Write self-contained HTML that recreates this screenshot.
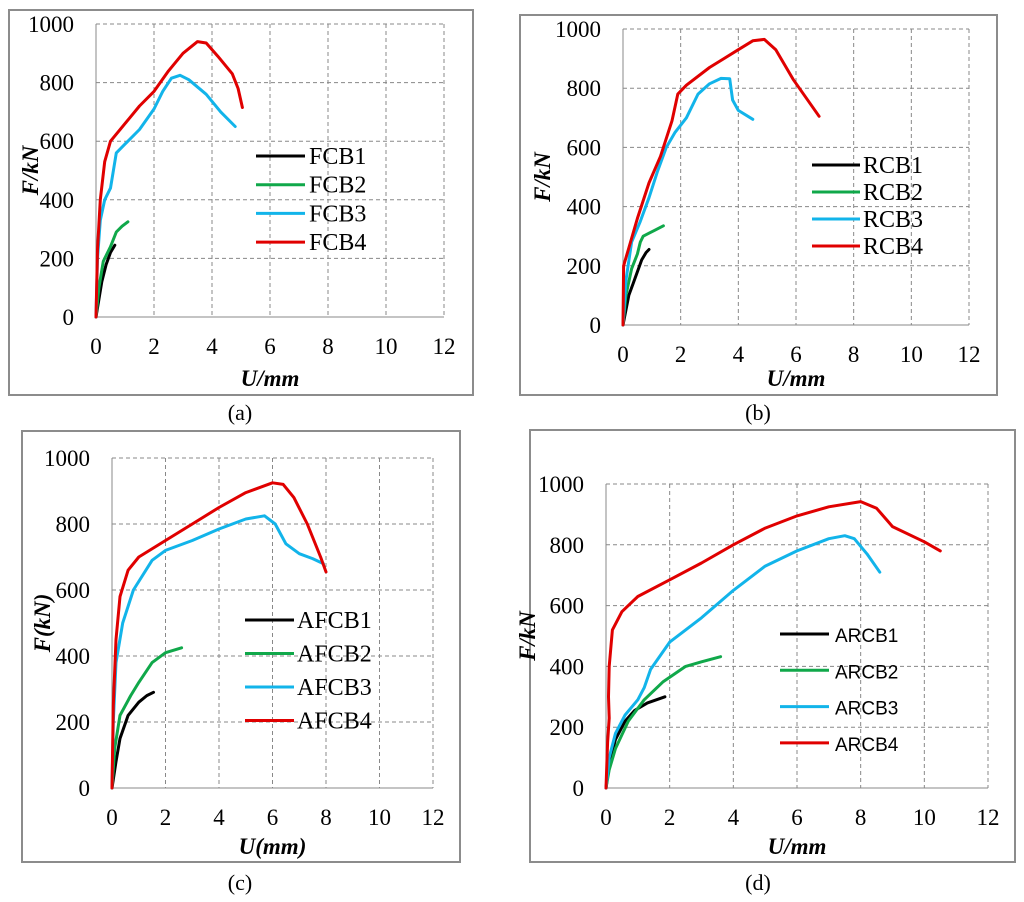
<!DOCTYPE html>
<html><head><meta charset="utf-8"><style>
body{margin:0;background:#fff;width:1024px;height:902px;overflow:hidden}
svg{display:block}
</style></head><body>
<svg id="fig" width="1024" height="902" xmlns="http://www.w3.org/2000/svg"></svg>
<script>
const xTicks=[0,2,4,6,8,10,12];
const yTicks=[0,200,400,600,800,1000];
const colors=["#000000","#10a84a","#12b4ea","#e00000"];
// panel a
const aNames=["FCB1","FCB2","FCB3","FCB4"];
const aS1=[[0,0],[0.1,60],[0.2,120],[0.35,180],[0.5,220],[0.65,245]];
const aS2=[[0,0],[0.1,100],[0.25,190],[0.5,240],[0.7,290],[0.9,310],[1.1,325]];
const aS3=[[0,0],[0.05,200],[0.15,330],[0.3,400],[0.5,440],[0.6,500],[0.7,560],[1,590],[1.5,640],[2,710],[2.3,770],[2.6,815],[2.9,825],[3.2,810],[3.8,760],[4.3,700],[4.8,650]];
const aS4=[[0,0],[0.05,230],[0.15,400],[0.3,530],[0.5,600],[1,660],[1.5,720],[2,770],[2.5,840],[3,900],[3.5,940],[3.8,935],[4.2,890],[4.7,830],[4.9,780],[5.05,715]];
// panel b
const bNames=["RCB1","RCB2","RCB3","RCB4"];
const bS1=[[0,0],[0.1,50],[0.2,100],[0.35,140],[0.5,180],[0.65,220],[0.8,245],[0.9,255]];
const bS2=[[0,0],[0.1,100],[0.3,190],[0.5,240],[0.6,280],[0.7,300],[0.9,310],[1.1,320],[1.4,335]];
const bS3=[[0,0],[0.1,150],[0.3,280],[0.6,350],[0.9,430],[1.2,520],[1.5,600],[1.8,650],[2.2,700],[2.6,780],[3,815],[3.4,833],[3.7,832],[3.8,760],[4,725],[4.5,695]];
const bS4=[[0,0],[0.02,200],[0.2,260],[0.5,360],[0.9,480],[1.3,570],[1.7,690],[1.9,780],[2.2,810],[3,870],[3.5,900],[4,930],[4.5,960],[4.9,965],[5.3,930],[5.9,830],[6.8,705]];
// panel c
const cNames=["AFCB1","AFCB2","AFCB3","AFCB4"];
const cS1=[[0,0],[0.15,80],[0.3,150],[0.6,220],[1,260],[1.3,280],[1.55,290]];
const cS2=[[0,0],[0.1,120],[0.3,220],[0.7,280],[1,320],[1.5,380],[2,410],[2.6,425]];
const cS3=[[0,0],[0.05,200],[0.15,380],[0.4,500],[0.8,600],[1.5,690],[2,720],[3,750],[4,785],[5,815],[5.7,825],[6.1,800],[6.5,740],[7,710],[7.5,695],[7.9,680]];
const cS4=[[0,0],[0.05,250],[0.15,450],[0.3,580],[0.6,660],[1,700],[2,750],[3,800],[4,850],[5,895],[6,925],[6.4,920],[6.8,880],[7.3,800],[7.8,700],[8,655]];
// panel d
const dNames=["ARCB1","ARCB2","ARCB3","ARCB4"];
const dS1=[[0,0],[0.1,80],[0.3,160],[0.6,220],[0.9,255],[1.3,280],[1.85,300]];
const dS2=[[0,0],[0.1,60],[0.3,130],[0.7,220],[1.2,290],[1.8,350],[2.5,400],[3,415],[3.6,432]];
const dS3=[[0,0],[0.1,100],[0.3,180],[0.6,240],[1,290],[1.2,330],[1.4,390],[2,480],[3,560],[4,650],[5,730],[6,780],[7,820],[7.5,830],[7.8,820],[8.2,770],[8.6,710]];
const dS4=[[0,0],[0.05,150],[0.1,230],[0.08,300],[0.1,400],[0.2,520],[0.5,580],[1,630],[2,685],[3,740],[4,800],[5,855],[6,895],[7,925],[8,942],[8.5,920],[9,860],[10,810],[10.5,780]];

const panels=[
 {id:"a",frame:[9,10,464,385],x0:96,x1:444,yT:24,yB:317,names:aNames,series:[aS1,aS2,aS3,aS4],leg:[256,305,309,156,28.7],legFont:'"Liberation Serif",serif',legSize:24,yTitle:"F/kN",yTitleX:30,xTitle:"U/mm",cap:"(a)",capX:240,capY:420,xTitleY:386},
 {id:"b",frame:[520,15,477,380],x0:623,x1:969,yT:29,yB:325,names:bNames,series:[bS1,bS2,bS3,bS4],leg:[812,860,863,165,27],legFont:'"Liberation Serif",serif',legSize:24,yTitle:"F/kN",yTitleX:542,xTitle:"U/mm",cap:"(b)",capX:758,capY:420,xTitleY:386},
 {id:"c",frame:[22,431,438,431],x0:112,x1:433,yT:458,yB:788,names:cNames,series:[cS1,cS2,cS3,cS4],leg:[245,294,297,620,33.5],legFont:'"Liberation Serif",serif',legSize:24,yTitle:"F(kN)",yTitleX:42,xTitle:"U(mm)",cap:"(c)",capX:240,capY:890,xTitleY:854},
 {id:"d",frame:[530,430,485,432],x0:606,x1:988,yT:484,yB:788,names:dNames,series:[dS1,dS2,dS3,dS4],leg:[780,829,835,634,36.3],legFont:'"Liberation Sans",sans-serif',legSize:19,yTitle:"F/kN",yTitleX:527,xTitle:"U/mm",cap:"(d)",capX:758,capY:890,xTitleY:854}
];
const NS="http://www.w3.org/2000/svg";
const svg=document.getElementById("fig");
function mk(tag,attrs,parent){const e=document.createElementNS(NS,tag);for(const k in attrs)e.setAttribute(k,attrs[k]);parent.appendChild(e);return e;}
panels.forEach(p=>{
 const g=mk("g",{},svg);
 
 
 const sx=v=>p.x0+(v/12)*(p.x1-p.x0);
 const sy=v=>p.yB-(v/1000)*(p.yB-p.yT);
 const fr=mk("rect",{x:p.frame[0],y:p.frame[1],width:p.frame[2],height:p.frame[3],fill:"none",stroke:"#8c8c8c","stroke-width":2},g);
 
 
 xTicks.forEach(t=>{
  const l=mk("line",{x1:sx(t),x2:sx(t),y1:p.yT,y2:p.yB,stroke:"#888","stroke-width":1,"stroke-dasharray":t===0?"":"4,3"},g);
  
  
  const tx=mk("text",{x:sx(t),y:p.yB+37,"text-anchor":"middle","font-family":'"Liberation Serif",serif',"font-size":23,fill:"#000"},g);
  tx.textContent=t;
  
  
 });
 yTicks.forEach(t=>{
  const l=mk("line",{x1:p.x0,x2:p.x1,y1:sy(t),y2:sy(t),stroke:"#888","stroke-width":1,"stroke-dasharray":t===0?"":"4,3"},g);
  
  
  const tx=mk("text",{x:p.x0-22,y:sy(t)+8,"text-anchor":"end","font-family":'"Liberation Serif",serif',"font-size":23,fill:"#000"},g);
  tx.textContent=t;
  
  
 });
 p.series.forEach((s,i)=>{
  const d=s.map((pt,j)=>(j?"L":"M")+sx(pt[0]).toFixed(1)+","+sy(pt[1]).toFixed(1)).join(" ");
  const path=mk("path",{d:d,fill:"none",stroke:colors[i],"stroke-width":3,"stroke-linejoin":"round","stroke-linecap":"round"},g);
  
  
 });
 p.names.forEach((n,i)=>{
  const y=p.leg[3]+i*p.leg[4];
  const l=mk("line",{x1:p.leg[0],x2:p.leg[1],y1:y,y2:y,stroke:colors[i],"stroke-width":3},g);
  
  
  const tx=mk("text",{x:p.leg[2],y:y+8,"font-family":p.legFont,"font-size":p.legSize,fill:"#000"},g);
  tx.textContent=n;
  
  
 });
 const yt=mk("text",{x:0,y:0,transform:`translate(${p.yTitleX+8},${(p.yT+p.yB)/2}) rotate(-90)`,"text-anchor":"middle","font-family":'"Liberation Serif",serif',"font-size":23,"font-weight":"bold","font-style":"italic",fill:"#000"},g);
 yt.textContent=p.yTitle;
 
 
 const xt=mk("text",{x:(p.x0+p.x1)/2,y:p.xTitleY,"text-anchor":"middle","font-family":'"Liberation Serif",serif',"font-size":23,"font-weight":"bold","font-style":"italic",fill:"#000"},g);
 xt.textContent=p.xTitle;
 
 
 const cp=mk("text",{x:p.capX,y:p.capY,"text-anchor":"middle","font-family":'"Liberation Serif",serif',"font-size":22,fill:"#000"},g);
 cp.textContent=p.cap;
 
 
});
</script>
</body></html>
